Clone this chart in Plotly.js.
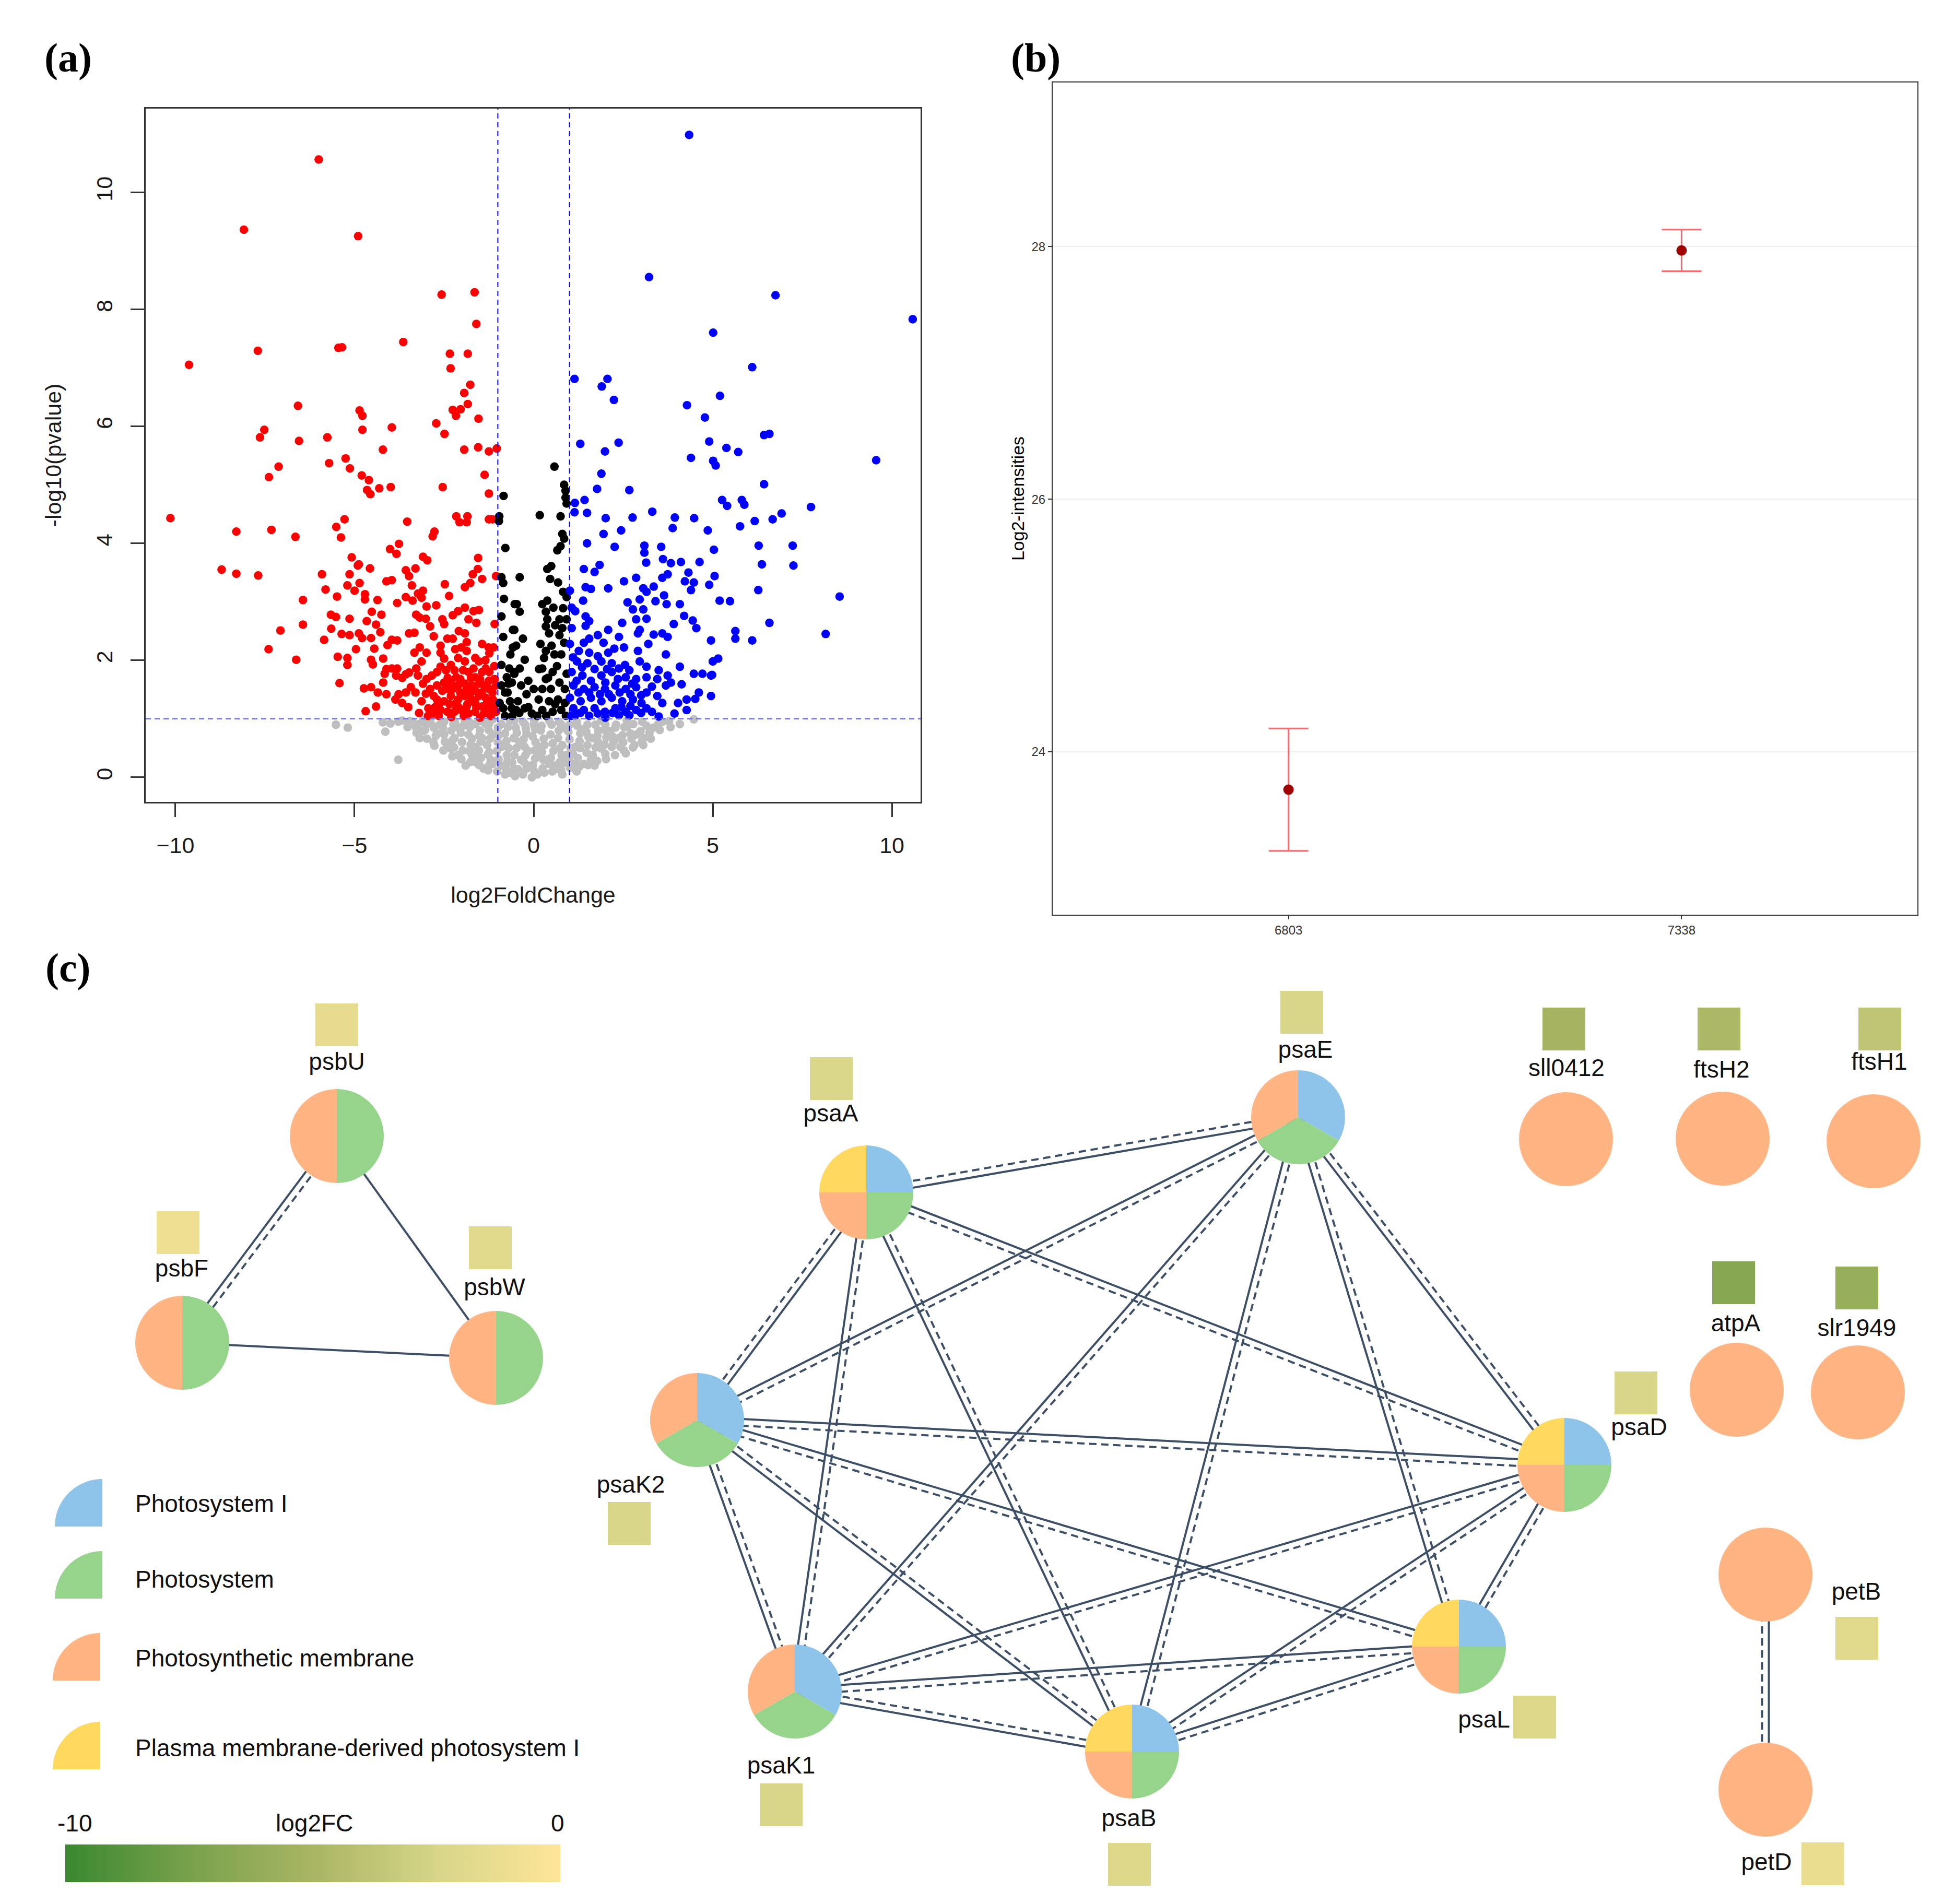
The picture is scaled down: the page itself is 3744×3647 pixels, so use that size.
<!DOCTYPE html>
<html>
<head>
<meta charset="utf-8">
<script src="https://cdn.plot.ly/plotly-3.0.1.min.js"></script>
<style>html,body{margin:0;padding:0;background:#fff;}#chart{width:3744px;height:3647px;}</style>
</head>
<body>
<div id="chart"></div>
<script>
// ---------------- DATA: panel (a) volcano plot ----------------
const volcanoXTicks = [-10, -5, 0, 5, 10];
const volcanoYTicks = [0, 2, 4, 6, 8, 10];
const foldThreshold = [-1, 1];
const pThreshold = 1;

const redPoints = [
[-6.00,10.56],[-8.09,9.36],[-4.90,9.25],[-9.62,7.05],[-7.70,7.29],[-5.45,7.34],[-5.35,7.35],[-3.64,7.44],[-2.57,8.25],[-1.65,8.29],
[-1.60,7.75],[-2.34,7.24],[-1.84,7.24],[-2.32,6.99],[-1.77,6.71],[-1.94,6.57],[-1.84,6.38],[-2.04,6.29],[-2.26,6.28],[-2.17,6.18],
[-1.54,6.13],[-2.72,6.05],[-2.49,5.87],[-1.94,5.60],[-1.55,5.64],[-1.25,5.57],[-1.03,5.62],[-1.37,5.17],[-1.25,4.85],[-2.54,4.96],
[-2.16,4.46],[-1.85,4.46],[-2.07,4.36],[-1.87,4.36],[-1.25,4.41],[-1.15,4.41],[-6.58,6.35],[-7.52,5.94],[-7.64,5.81],[-6.55,5.75],
[-5.76,5.81],[-4.86,6.27],[-4.78,6.18],[-4.78,5.94],[-3.96,5.98],[-4.21,5.60],[-5.25,5.45],[-5.13,5.28],[-5.71,5.37],[-7.12,5.31],
[-7.39,5.13],[-4.80,5.16],[-4.60,5.08],[-4.65,4.91],[-4.56,4.84],[-4.31,4.94],[-3.99,4.96],[-10.14,4.43],[-8.30,4.20],[-7.32,4.23],
[-6.65,4.11],[-5.28,4.41],[-5.51,4.28],[-5.38,4.10],[-3.53,4.37],[-2.77,4.20],[-2.82,4.12],[-8.71,3.55],[-8.30,3.48],[-7.69,3.45],
[-5.08,3.76],[-4.88,3.64],[-4.01,3.90],[-3.76,3.99],[-3.83,3.82],[-3.09,3.77],[-2.97,3.71],[-1.55,3.75],[-7.07,2.51],[-7.40,2.19],[-6.63,2.01],
[-5.91,3.47],[-5.14,3.47],[-5.81,3.21],[-5.20,3.28],[-5.00,3.19],[-4.86,3.32],[-4.71,3.13],[-4.71,3.04],[-4.36,3.03],[-5.49,3.09],
[-6.44,3.03],[-6.44,2.61],[-5.66,2.78],[-5.52,2.74],[-5.14,2.71],[-5.65,2.54],[-5.36,2.45],[-5.14,2.43],[-4.88,2.46],[-4.79,2.38],
[-4.54,2.38],[-4.66,2.67],[-4.52,2.83],[-4.25,2.78],[-4.40,2.61],[-4.28,2.48],[-5.85,2.35],[-4.96,2.19],[-4.45,2.20],[-5.47,2.06],
[-5.20,2.04],[-5.20,1.92],[-4.54,2.01],[-4.49,1.93],[-4.20,2.03],[-4.08,2.26],[-3.81,2.34],[-3.96,2.35],[-3.81,2.98],[-3.57,3.08],
[-3.38,3.02],[-3.23,3.14],[-3.09,3.19],[-3.13,3.07],[-2.99,2.92],[-2.72,2.94],[-3.28,2.78],[-3.18,2.73],[-3.01,2.71],[-2.89,2.58],
[-2.79,2.41],[-2.55,2.70],[-2.50,2.62],[-2.48,3.30],[-2.36,3.10],[-2.26,2.77],[-2.11,2.84],[-1.92,3.25],[-1.77,3.32],[-1.70,3.47],
[-1.56,3.56],[-1.44,3.39],[-1.92,2.90],[-1.68,2.84],[-1.82,2.70],[-1.60,2.64],[-1.53,2.86],[-1.09,2.62],[-1.05,3.44],[-3.57,3.54],
[-3.48,3.44],[-3.40,3.28],[-3.30,3.57],[-4.11,3.35],[-3.96,3.37],[-4.91,3.62],[-4.57,3.57],[-3.48,2.46],[-3.33,2.47],[-2.09,2.50],
[-1.92,2.46],[-2.41,2.37],[-2.26,2.37],[-1.87,2.31],[-2.02,2.22],[-2.19,2.19],[-1.87,2.16],[-1.44,2.28],[-1.26,2.22],[-1.12,2.22],
[-1.24,2.12],[-3.18,2.22],[-2.99,2.13],[-3.33,2.13],[-2.60,2.25],[-2.60,2.13],[-2.50,2.03],[-2.11,2.04],[-1.92,1.98],[-1.63,2.04],
[-1.53,1.98],[-4.11,1.85],[-3.96,1.86],[-3.81,1.86],[-3.57,1.76],[-3.48,1.79],[-3.28,1.86],[-3.13,1.98],[-3.23,1.74],[-3.09,1.60],
[-2.99,1.68],[-2.84,1.74],[-2.70,1.80],[-2.60,1.89],[-2.45,1.83],[-2.21,1.83],[-2.16,1.71],[-1.97,1.83],[-1.82,1.80],[-1.63,1.71],
[-1.44,1.80],[-1.34,1.86],[-1.09,1.68],[-1.05,1.57],[-1.24,1.51],[-1.53,1.60],[-1.73,1.57],[-1.92,1.60],[-2.11,1.57],[-2.31,1.62],
[-2.50,1.62],[-2.70,1.57],[-2.89,1.51],[-3.01,1.43],[-3.13,1.30],[-2.94,1.18],[-2.79,1.09],[-2.60,1.15],[-2.41,1.12],[-2.21,1.12],
[-2.02,1.15],[-1.82,1.09],[-1.63,1.12],[-1.44,1.21],[-1.24,1.18],[-1.05,1.12],[-1.14,1.33],[-1.34,1.36],[-1.53,1.39],[-1.73,1.33],
[-1.92,1.39],[-2.11,1.33],[-2.31,1.39],[-2.50,1.30],[-2.70,1.33],[-2.79,1.39],[-3.77,1.42],[-3.67,1.27],[-3.86,1.33],[-3.57,1.45],
[-3.43,1.54],[-4.20,1.62],[-4.11,1.42],[-4.35,1.45],[-4.54,1.54],[-4.74,1.52],[-4.40,1.21],[-4.69,1.13],[-5.42,1.61],[-3.84,1.74],
[-3.67,1.70],[-4.16,1.77],[-1.03,1.27],[-1.39,1.09],[-1.87,1.21],[-2.26,1.51],[-1.87,1.51],[-1.39,1.57],[-1.63,1.27],[-2.11,1.21],
[-2.41,1.51],[-1.24,1.80],[-1.68,1.86],[-2.31,1.92],
[-2.95,1.05],[-2.65,1.25],[-2.35,1.25],[-2.05,1.45],[-1.75,1.45],[-1.45,1.45],[-1.15,1.45],[-1.20,1.05],[-1.50,1.02],[-1.95,1.05],
[-2.30,1.03],[-2.65,1.05],[-1.10,1.90],[-1.35,2.00],[-2.40,1.70],[-2.05,1.68],[-1.75,1.70],[-1.50,1.68],[-1.25,1.65],[-2.75,1.20],
[-3.30,1.45],[-3.50,1.20],[-3.20,1.10],[-1.60,1.20],[-1.85,1.25],[-2.20,1.25],[-1.30,1.28],[-1.10,1.22],[-2.55,1.48],[-1.65,1.50]
];

const blackPoints = [
[-0.90,3.42],[-0.85,3.32],[-0.83,3.05],[-0.90,2.75],[-0.53,2.96],[-0.58,2.52],[-0.58,2.22],[-0.90,1.92],[-0.68,1.86],[-0.75,1.71],
[-0.61,1.62],[-0.90,1.57],[-0.73,1.45],[-0.66,1.30],[-0.85,1.18],[-0.61,1.18],[-0.95,1.27],[-0.53,1.80],
[-0.39,3.42],[0.38,3.56],[0.46,3.39],[0.68,3.33],[0.82,3.17],[0.92,3.08],[0.38,3.02],[0.24,2.96],[-0.47,2.96],[-0.39,2.83],
[0.82,2.89],[0.34,2.83],[0.38,2.70],[0.72,2.70],[0.92,2.70],[0.34,2.58],[0.43,2.46],[0.72,2.43],[-0.54,2.52],[-0.30,2.37],
[-0.49,2.25],[0.19,2.28],[0.34,2.16],[0.58,2.10],[0.77,2.10],[0.29,2.04],[-0.25,2.01],[-0.39,1.86],[-0.54,1.77],[-0.15,1.65],
[0.24,1.86],[0.53,1.80],[0.92,1.77],[0.34,1.68],[0.72,1.62],[0.24,1.51],[0.48,1.51],[0.87,1.51],[-0.20,1.42],[-0.44,1.30],
[0.14,1.33],[0.43,1.30],[0.68,1.33],[0.87,1.27],[-0.25,1.18],[-0.05,1.09],[0.24,1.15],[0.53,1.12],[0.77,1.15],[-0.49,1.15],
[0.00,1.51],[-0.35,1.57],
[0.58,5.31],[0.85,5.00],[0.89,4.90],[0.89,4.78],[0.92,4.68],[-0.84,4.81],[-0.96,4.46],[-0.97,4.38],[0.17,4.48],[0.75,4.46],
[0.80,4.16],[0.85,4.08],[0.75,3.95],[0.66,3.88],[-0.79,3.92],[0.49,3.61],
[-0.80,1.05],[-0.60,1.05],[-0.40,1.10],[-0.15,1.20],[0.10,1.05],[0.35,1.05],[0.60,1.25],[0.90,1.05],[0.65,1.90],[0.85,2.30],
[0.50,2.25],[0.60,2.60],[0.80,2.55],[0.55,2.90],[-0.70,1.60],[-0.80,1.45],[-0.65,2.10],[-0.85,2.40],[0.40,1.70],[0.15,1.85]
];

const bluePoints = [
[4.34,10.98],[3.22,8.55],[6.75,8.24],[10.58,7.83],[5.01,7.60],[6.10,7.01],[1.14,6.81],[1.90,6.68],[2.06,6.81],[2.24,6.45],
[5.20,6.52],[4.28,6.36],[4.78,6.15],[4.90,5.74],[5.38,5.63],[5.71,5.56],[6.43,5.85],[6.58,5.87],[9.56,5.42],[1.30,5.70],
[1.99,5.57],[2.37,5.72],[4.39,5.46],[5.01,5.41],[5.08,5.33],[1.89,5.19],[1.77,4.93],[2.67,4.91],[1.42,4.74],[1.15,4.69],
[5.26,4.74],[5.40,4.64],[5.81,4.74],[5.88,4.66],[6.43,5.01],[7.74,4.62],[6.92,4.51],[6.67,4.41],[6.17,4.38],[5.76,4.29],
[1.14,4.53],[1.49,4.52],[2.01,4.43],[2.76,4.44],[3.31,4.54],[3.94,4.44],[4.48,4.43],[3.88,4.26],[2.44,4.22],[1.95,4.16],
[4.86,4.22],[6.28,3.96],[7.23,3.96],[6.37,3.64],[7.25,3.62],[5.03,3.89],[1.49,4.00],[2.26,3.94],[3.09,3.96],[3.09,3.84],
[3.56,3.94],[3.61,3.73],[3.83,3.66],[4.11,3.68],[4.63,3.68],[3.14,3.67],[8.54,3.09],[8.15,2.45],[6.58,2.64],[5.63,2.50],
[5.63,2.37],[6.10,2.34],[6.27,3.20],[5.48,3.01],[4.98,1.75],
[1.40,3.56],[1.70,3.51],[1.84,3.63],[1.01,3.19],[1.45,3.25],[1.60,3.22],[1.38,3.02],[2.08,3.23],[2.52,3.35],[2.86,3.41],
[3.06,3.23],[3.15,3.17],[3.35,3.26],[3.64,3.11],[3.59,3.41],[3.74,3.47],[4.32,3.50],[4.22,3.35],[4.47,3.33],[4.39,3.20],
[4.90,3.29],[5.05,3.44],[5.19,3.02],[2.62,2.99],[2.96,3.04],[2.77,2.87],[3.06,2.87],[3.40,3.01],[3.71,2.96],[4.08,2.96],
[4.20,2.76],[4.44,2.68],[4.54,2.55],[3.91,2.62],[3.15,2.71],[2.86,2.70],[2.47,2.64],[2.08,2.52],[2.38,2.40],[2.96,2.52],
[2.91,2.46],[3.35,2.44],[3.59,2.46],[3.74,2.40],[3.20,2.28],[4.95,2.34],[1.06,2.90],[1.16,2.84],[1.45,2.75],[1.55,2.67],
[1.45,2.59],[1.06,2.55],[1.79,2.43],[1.55,2.37],[1.01,2.28],[2.52,2.22],[2.91,2.16],[3.69,2.10],[4.08,1.89],[5.00,1.98],
[5.15,2.03],[4.47,1.77],[4.71,1.77],[4.95,1.74],[4.95,1.39],[4.61,1.45],[4.51,1.34],[4.27,1.33],[4.03,1.27],[4.27,1.15],
[3.93,1.09],[3.49,1.04],[1.26,2.16],[1.55,2.13],[1.79,2.07],[2.08,2.13],[1.21,1.98],[1.50,1.95],[1.89,1.98],[2.18,1.95],
[2.38,1.86],[2.67,1.83],[2.96,1.98],[3.15,1.89],[3.49,1.83],[1.06,1.80],[1.36,1.74],[1.89,1.74],[2.18,1.80],[2.57,1.71],
[2.86,1.68],[3.15,1.71],[3.45,1.68],[3.74,1.74],[3.83,1.62],[4.13,1.59],[3.69,1.57],[1.11,1.57],[1.40,1.51],[1.70,1.54],
[1.99,1.51],[2.28,1.57],[2.57,1.51],[2.86,1.54],[3.15,1.45],[3.45,1.39],[1.01,1.36],[1.31,1.30],[1.60,1.36],[1.89,1.30],
[2.18,1.36],[2.47,1.30],[2.77,1.33],[3.01,1.27],[3.59,1.27],[1.11,1.18],[1.40,1.15],[1.70,1.18],[1.99,1.12],[2.28,1.18],
[2.57,1.12],[2.86,1.15],[3.15,1.18],[1.16,1.06],[1.79,1.09],[2.38,1.06],[2.67,1.06],
[1.05,1.05],[1.30,1.10],[1.55,1.05],[2.00,1.02],[2.20,1.10],[2.45,1.20],[2.70,1.22],[3.00,1.10],[3.30,1.12],[1.25,1.45],
[1.55,1.45],[1.85,1.42],[2.10,1.42],[2.40,1.45],[2.70,1.42],[3.00,1.40],[3.30,1.55],[1.20,1.65],[1.60,1.65],[2.00,1.62],
[2.35,1.68],[2.75,1.60],[1.35,1.88],[1.70,1.85],[2.05,1.85],[2.55,1.92],[1.10,2.05],[1.40,2.30],[1.95,2.30],[2.25,2.20]
];

const grayPoints = [
[-5.52,0.90],[-5.19,0.85],[-4.21,0.94],[-4.14,0.78],[-3.78,0.30],[-3.67,0.97],[-3.47,0.91],[-3.28,0.85],[-3.09,0.79],[-3.18,0.67],
[-3.09,0.98],[-2.89,0.97],[-2.79,0.85],[-2.60,0.91],[-2.50,0.73],[-2.41,0.55],[-2.21,0.67],[-2.11,0.38],[-2.31,0.49],[-2.11,0.85],
[-1.92,0.97],[-1.82,0.73],[-1.63,0.26],[-1.63,0.52],[-1.44,0.67],[-1.34,0.91],[-1.24,0.43],[-1.14,0.23],[-1.14,0.73],[-0.90,0.52],
[-0.90,0.91],[-0.66,0.08],[-0.75,0.38],[-0.56,0.67],[-0.66,0.97],[-1.63,0.91],[-1.14,0.99],
[-0.54,0.97],[-0.54,0.67],[-0.54,0.38],[-0.54,0.14],[-0.30,0.08],[-0.05,0.00],[0.04,0.82],[0.43,0.97],[0.19,0.52],[0.68,0.67],
[0.92,0.38],[0.43,0.23],[1.40,0.82],[1.16,0.52],[1.65,0.67],[1.89,0.97],[1.65,0.38],[2.13,0.79],[2.38,0.67],[2.62,0.88],
[2.86,0.73],[3.06,0.55],[2.57,0.41],[2.18,0.52],[3.35,0.85],[4.08,0.91],[4.47,0.99],[-0.44,0.14],[-0.25,0.52],[0.68,0.14],
[1.16,0.23],[1.70,0.20],[0.92,0.82],[0.04,0.32],[-0.25,0.91],[1.40,0.23],[1.89,0.49],[2.42,0.52],[2.81,0.55],[3.15,0.88],[3.06,0.67],
[-2.0,0.6],[-1.8,0.45],[-1.5,0.8],[-1.3,0.55],[-1.2,0.3],[-1.0,0.85],[-1.0,0.6],[-0.9,0.2],[-0.8,0.75],[-0.7,0.5],
[-0.6,0.25],[-0.5,0.85],[-0.4,0.6],[-0.35,0.3],[-0.2,0.75],[-0.15,0.45],[-0.1,0.2],[0.0,0.9],[0.05,0.6],[0.1,0.35],
[0.2,0.8],[0.3,0.55],[0.35,0.3],[0.5,0.9],[0.55,0.45],[0.6,0.2],[0.7,0.8],[0.8,0.55],[0.9,0.25],[1.0,0.9],
[1.0,0.65],[1.1,0.4],[1.3,0.75],[1.3,0.5],[1.5,0.9],[1.5,0.55],[1.6,0.3],[1.8,0.8],[1.8,0.6],[2.0,0.9],
[2.0,0.4],[2.2,0.7],[2.3,0.9],[2.5,0.6],[2.7,0.75],[-2.3,0.8],[-2.5,0.95],[-2.7,0.75],[-3.0,0.9],[-1.6,0.35],
[-0.3,0.05],[0.3,0.08],[-1.9,0.2],[0.1,0.05],[-0.2,0.15],[0.25,0.15],[-1.4,0.15],[1.2,0.1],[-2.8,0.6],[-3.4,0.95],
[-4.0,0.92],[-2.2,0.95],[-0.8,0.05],[0.8,0.05],[2.6,0.97],[3.6,0.95],[-1.8,0.95],[-0.3,0.95],[0.7,0.95],[1.2,0.95],
[-3.78,0.95],[-3.52,0.86],[-3.46,0.96],[-3.27,0.76],[-3.22,0.91],[-2.98,0.66],[-3.03,0.81],[-2.77,0.54],[-2.73,0.71],[-2.76,0.87],
[-2.52,0.46],[-2.48,0.61],[-2.53,0.84],[-2.27,0.36],[-2.22,0.51],[-2.26,0.64],[-2.24,0.91],[-2.02,0.31],[-1.98,0.46],[-2.03,0.76],
[-1.97,0.88],[-1.77,0.26],[-1.73,0.39],[-1.76,0.56],[-1.72,0.66],[-1.78,0.86],[-1.52,0.21],[-1.47,0.33],[-1.53,0.46],[-1.48,0.61],
[-1.52,0.71],[-1.47,0.96],[-1.27,0.12],[-1.23,0.22],[-1.28,0.39],[-1.22,0.66],[-1.26,0.81],[-1.24,0.92],[-1.02,0.10],[-0.98,0.31],
[-1.03,0.45],[-0.97,0.72],[-0.77,0.15],[-0.73,0.28],[-0.76,0.62],[-0.72,0.86],[-0.52,0.02],[-0.48,0.50],[-0.47,0.76],[-0.27,0.26],
[-0.23,0.38],[-0.28,0.65],[-0.22,0.83],[0.02,0.10],[-0.02,0.21],[0.03,0.46],[-0.03,0.70],[0.02,0.97],[0.27,0.30],[0.23,0.43],
[0.28,0.66],[0.22,0.88],[0.52,0.10],[0.48,0.33],[0.53,0.58],[0.47,0.73],[0.77,0.13],[0.73,0.26],[0.78,0.38],[0.72,0.49],
[0.76,0.91],[1.02,0.16],[0.98,0.31],[1.03,0.50],[0.97,0.78],[1.27,0.18],[1.23,0.33],[1.28,0.62],[1.22,0.88],[1.52,0.21],
[1.48,0.42],[1.53,0.69],[1.47,0.78],[1.77,0.28],[1.73,0.51],[1.78,0.71],[1.72,0.90],[2.02,0.31],[1.98,0.56],[2.03,0.68],
[1.97,0.81],[2.27,0.38],[2.23,0.61],[2.28,0.85],[2.52,0.46],[2.48,0.72],[2.53,0.86],[2.77,0.51],[2.73,0.66],[2.78,0.91],
[3.02,0.61],[2.98,0.79],[3.03,0.95],[3.27,0.66],[3.23,0.76],[3.52,0.81],[3.48,0.91],[3.82,0.86],[3.78,0.96]
];

// ---------------- DATA: panel (b) intensities ----------------
const strainNames = ['6803', '7338'];
const meanIntensity = [23.70, 27.97];
const errIntensity = [0.485, 0.165];
const intensityTicks = [24, 26, 28];

// ---------------- DATA: panel (c) network ----------------
const categories = ['Photosystem I', 'Photosystem', 'Photosynthetic membrane', 'Plasma membrane-derived photosystem I'];
const nodeNames = ['psbU','psbF','psbW','psaA','psaE','psaK2','psaD','psaK1','psaL','psaB','sll0412','ftsH2','ftsH1','atpA','slr1949','petB','petD'];
const nodeCategories = [
  ['Photosystem','Photosynthetic membrane'],
  ['Photosystem','Photosynthetic membrane'],
  ['Photosystem','Photosynthetic membrane'],
  ['Photosystem I','Photosystem','Photosynthetic membrane','Plasma membrane-derived photosystem I'],
  ['Photosystem I','Photosystem','Photosynthetic membrane'],
  ['Photosystem I','Photosystem','Photosynthetic membrane'],
  ['Photosystem I','Photosystem','Photosynthetic membrane','Plasma membrane-derived photosystem I'],
  ['Photosystem I','Photosystem','Photosynthetic membrane'],
  ['Photosystem I','Photosystem','Photosynthetic membrane','Plasma membrane-derived photosystem I'],
  ['Photosystem I','Photosystem','Photosynthetic membrane','Plasma membrane-derived photosystem I'],
  ['Photosynthetic membrane'],['Photosynthetic membrane'],['Photosynthetic membrane'],
  ['Photosynthetic membrane'],['Photosynthetic membrane'],['Photosynthetic membrane'],['Photosynthetic membrane']
];
const nodeLog2FC = [-1.5,-1.0,-1.8,-2.2,-2.4,-2.5,-2.4,-2.3,-2.0,-2.0,-5.2,-4.8,-3.8,-6.7,-5.9,-1.9,-1.3];
// edges: [source, target, kind]  (kind 'double' = solid + dashed evidence lines)
const edges = [
  ['psaA','psaE','double'],['psaK2','psaA','double'],['psaA','psaK1','double'],['psaA','psaB','double'],['psaD','psaA','double'],
  ['psaE','psaK2','double'],['psaE','psaK1','double'],['psaE','psaB','double'],['psaE','psaL','double'],['psaE','psaD','double'],
  ['psaD','psaL','double'],['psaL','psaK2','double'],['psaL','psaK1','double'],['psaL','psaB','double'],['psaD','psaK2','double'],
  ['psaK2','psaK1','double'],['psaK2','psaB','double'],['psaD','psaK1','double'],['psaK1','psaB','double'],['psaD','psaB','double'],
  ['psbU','psbF','double'],['psbU','psbW','single'],['psbF','psbW','single'],['petD','petB','double']
];
const log2FCRange = [-10, 0];

// ---------------- LAYOUT (pixel positions) ----------------
const W = 3744, H = 3647;
const nodeX = [645, 349, 950, 1659, 2486, 1335, 2996, 1522, 2794, 2168, 2999, 3299, 3588, 3326, 3558, 3381, 3381];
const nodeY = [2176, 2572, 2601, 2284, 2140, 2720, 2806, 3240, 3154, 3355, 2182, 2181, 2186, 2662, 2667, 3016, 3428];
const nodeR = 90;
const squareX = [645, 341, 939, 1592, 2493, 1205, 3133, 1496, 2939, 2163, 2995, 3292, 3600, 3320, 3556, 3556, 3491];
const squareY = [1963, 2361, 2390, 2066, 1939, 2918, 2668, 3457, 3289, 3571, 1971, 1971, 1971, 2457, 2467, 3138, 3570];
const labelX = [645, 348, 947, 1591, 2500, 1208, 3139, 1496, 2842, 2162, 3000, 3297, 3599, 3324, 3556, 3555, 3383];
const labelY = [2037, 2433, 2469, 2136, 2014, 2847, 2737, 3385, 3297, 3486, 2049, 2052, 2037, 2538, 2547, 3052, 3570];
const legendIconBX = [196, 196, 192, 192];
const legendIconBY = [2924, 3062, 3219, 3389];
const legendIconR = 91;
const legendTextX = 257;
const legendTextY = [2880, 3025, 3176, 3348];

const catColor = {
  'Photosystem I': '#8ec4e9',
  'Photosystem': '#97d48b',
  'Photosynthetic membrane': '#ffb482',
  'Plasma membrane-derived photosystem I': '#ffd85e'
};
const fcScale = [[0,'#3a882e'],[0.25,'#78a14c'],[0.5,'#a9b563'],[0.75,'#d6d588'],[1,'#fee598']];
const edgeColor = '#3d4f67';
const sans = 'Liberation Sans, Arial, sans-serif';

const traces = [];

// ---- panel (a)
function pts(arr, color) {
  return {type:'scatter', mode:'markers', x: arr.map(p=>p[0]), y: arr.map(p=>p[1]), xaxis:'x', yaxis:'y',
    marker:{color: color, size: 16.5, line:{width:0}}, hoverinfo:'x+y', showlegend:false};
}
traces.push(pts(grayPoints, '#bebebe'));
traces.push(pts(redPoints, '#ff0000'));
traces.push(pts(blackPoints, '#000000'));
traces.push(pts(bluePoints, '#0000ff'));

// ---- panel (b)
traces.push({type:'scatter', mode:'markers', x: strainNames, y: meanIntensity, xaxis:'x2', yaxis:'y2',
  marker:{color:'#9e0000', size:20},
  error_y:{type:'data', array: errIntensity, visible:true, color:'#f36b6e', thickness:3, width:38},
  showlegend:false});

// ---- panel (c) edges
const idx = n => nodeNames.indexOf(n);
const solidX = [], solidY = [], dashX = [], dashY = [];
const off = 6.5;
edges.forEach(([s,t,kind]) => {
  const a = idx(s), b = idx(t);
  const dx = nodeX[b]-nodeX[a], dy = nodeY[b]-nodeY[a], L = Math.hypot(dx,dy);
  const nx = dy/L, ny = -dx/L;
  if (kind === 'double') {
    solidX.push(nodeX[a]-nx*off, nodeX[b]-nx*off, null); solidY.push(nodeY[a]-ny*off, nodeY[b]-ny*off, null);
    dashX.push(nodeX[a]+nx*off, nodeX[b]+nx*off, null); dashY.push(nodeY[a]+ny*off, nodeY[b]+ny*off, null);
  } else {
    solidX.push(nodeX[a], nodeX[b], null); solidY.push(nodeY[a], nodeY[b], null);
  }
});
traces.push({type:'scatter', mode:'lines', x: solidX, y: solidY, xaxis:'x3', yaxis:'y3',
  line:{color:edgeColor, width:4}, hoverinfo:'skip', showlegend:false, connectgaps:false});
traces.push({type:'scatter', mode:'lines', x: dashX, y: dashY, xaxis:'x3', yaxis:'y3',
  line:{color:edgeColor, width:4, dash:'14px,9px'}, hoverinfo:'skip', showlegend:false, connectgaps:false});

// ---- squares (log2FC)
traces.push({type:'scatter', mode:'markers', x: squareX, y: squareY, xaxis:'x3', yaxis:'y3',
  text: nodeNames, hovertemplate:'%{text}: %{marker.color}<extra></extra>',
  marker:{symbol:'square', size:82, color: nodeLog2FC, colorscale: fcScale, cmin: log2FCRange[0], cmax: log2FCRange[1],
    line:{width:0}, showscale:true,
    colorbar:{orientation:'h', x:599/W, xanchor:'center', y:1-3569/H, yanchor:'middle', len:948, lenmode:'pixels',
      thickness:72, thicknessmode:'pixels', showticklabels:false, ticks:'', outlinewidth:0, xpad:0, ypad:0,
      title:{text:''}}},
  showlegend:false});

// ---- labels
traces.push({type:'scatter', mode:'text', x: labelX, y: labelY, xaxis:'x3', yaxis:'y3', text: nodeNames,
  textposition:'middle center', textfont:{family:sans, size:46, color:'#111111'}, hoverinfo:'skip', showlegend:false});

// ---- pie nodes
nodeNames.forEach((n,i) => {
  const cats = nodeCategories[i];
  traces.push({type:'pie', labels: cats, values: cats.map(()=>1), sort:false, direction:'clockwise', rotation:0,
    marker:{colors: cats.map(c=>catColor[c]), line:{width:0}}, textinfo:'none', hoverinfo:'label', showlegend:false,
    name: n,
    domain:{x:[(nodeX[i]-nodeR)/W, (nodeX[i]+nodeR)/W], y:[1-(nodeY[i]+nodeR)/H, 1-(nodeY[i]-nodeR)/H]}});
});

// ---- legend icons (quarter discs)
const shapes = [];
const k = 0.5523;
categories.forEach((c,i) => {
  const bx = legendIconBX[i], by = legendIconBY[i], r = legendIconR;
  const path = `M ${bx-r},${by} C ${bx-r},${by-k*r} ${bx-k*r},${by-r} ${bx},${by-r} L ${bx},${by} Z`;
  shapes.push({type:'path', xref:'x3', yref:'y3', path: path, fillcolor: catColor[c], line:{width:0}});
});
// threshold lines panel (a)
foldThreshold.forEach(v => shapes.push({type:'line', xref:'x', yref:'y domain', x0:v, x1:v, y0:0, y1:1,
  line:{color:'#0000ff', width:2, dash:'10px,7px'}}));
shapes.push({type:'line', xref:'x domain', yref:'y', x0:0, x1:1, y0:pThreshold, y1:pThreshold,
  line:{color:'#6b6bff', width:2.5, dash:'10px,7px'}});

const annotations = [];
categories.forEach((c,i) => annotations.push({xref:'x3', yref:'y3', x: legendTextX, y: legendTextY[i], text: c,
  showarrow:false, xanchor:'left', yanchor:'middle', font:{family:sans, size:46, color:'#111111'}}));
annotations.push({xref:'x3', yref:'y3', x:108, y:3492, text:String(log2FCRange[0]), showarrow:false, xanchor:'left', yanchor:'middle', font:{family:sans, size:46, color:'#111'}});
annotations.push({xref:'x3', yref:'y3', x:602, y:3492, text:'log2FC', showarrow:false, xanchor:'center', yanchor:'middle', font:{family:sans, size:46, color:'#111'}});
annotations.push({xref:'x3', yref:'y3', x:1083, y:3492, text:String(log2FCRange[1]), showarrow:false, xanchor:'right', yanchor:'middle', font:{family:sans, size:46, color:'#111'}});
// panel labels
[['(a)',83,110],['(b)',1934,110],['(c)',85,1853]].forEach(([t,px,py]) => annotations.push({xref:'paper', yref:'paper',
  x:px/W, y:1-py/H, text:'<b>'+t+'</b>', showarrow:false, xanchor:'left', yanchor:'middle',
  font:{family:'Liberation Serif, Times New Roman, serif', size:78, color:'#000'}}));

const axFont = {family:sans, size:43, color:'#1a1a1a'};
const layout = {
  width: W, height: H, margin:{l:0, r:0, t:0, b:0, autoexpand:false},
  paper_bgcolor:'#ffffff', plot_bgcolor:'rgba(0,0,0,0)', showlegend:false,
  xaxis:{domain:[279/W, 1763/W], anchor:'y', range:[-10.83, 10.80], tickmode:'array', tickvals: volcanoXTicks,
    ticks:'outside', ticklen:26, tickwidth:2.5, tickcolor:'#333', showline:true, mirror:true, linecolor:'#333', linewidth:2.5,
    showgrid:false, zeroline:false, tickfont:axFont, ticklabelstandoff:18,
    title:{text:'log2FoldChange', font:axFont, standoff:57}},
  yaxis:{domain:[1-1536/H, 1-208/H], anchor:'x', range:[-0.42, 11.43], tickmode:'array', tickvals: volcanoYTicks, tickangle:-90,
    ticks:'outside', ticklen:26, tickwidth:2.5, tickcolor:'#333', showline:true, mirror:true, linecolor:'#333', linewidth:2.5,
    showgrid:false, zeroline:false, tickfont:axFont, ticklabelstandoff:18,
    title:{text:'-log10(pvalue)', font:axFont, standoff:45}},
  xaxis2:{domain:[2016/W, 3672/W], anchor:'y2', type:'category', range:[-0.6, 1.6],
    ticks:'outside', ticklen:7, tickwidth:2, tickcolor:'#333', showline:true, mirror:true, linecolor:'#333', linewidth:2,
    showgrid:false, zeroline:false, tickfont:{family:sans, size:24, color:'#333'}},
  yaxis2:{domain:[1-1752/H, 1-158/H], anchor:'x2', range:[22.71, 29.30], tickmode:'array', tickvals: intensityTicks,
    ticks:'outside', ticklen:7, tickwidth:2, tickcolor:'#333', showline:true, mirror:true, linecolor:'#333', linewidth:2,
    showgrid:true, gridcolor:'#efefef', gridwidth:2, zeroline:false, tickfont:{family:sans, size:24, color:'#333'},
    title:{text:'Log2-intensities', font:{family:sans, size:34, color:'#000'}, standoff:4}},
  xaxis3:{domain:[0,1], anchor:'y3', range:[0, W], visible:false, fixedrange:true},
  yaxis3:{domain:[0, 1-1790/H], anchor:'x3', range:[H, 1790], visible:false, fixedrange:true},
  shapes: shapes, annotations: annotations
};

Plotly.newPlot('chart', traces, layout, {displayModeBar:false});
</script>
</body>
</html>
